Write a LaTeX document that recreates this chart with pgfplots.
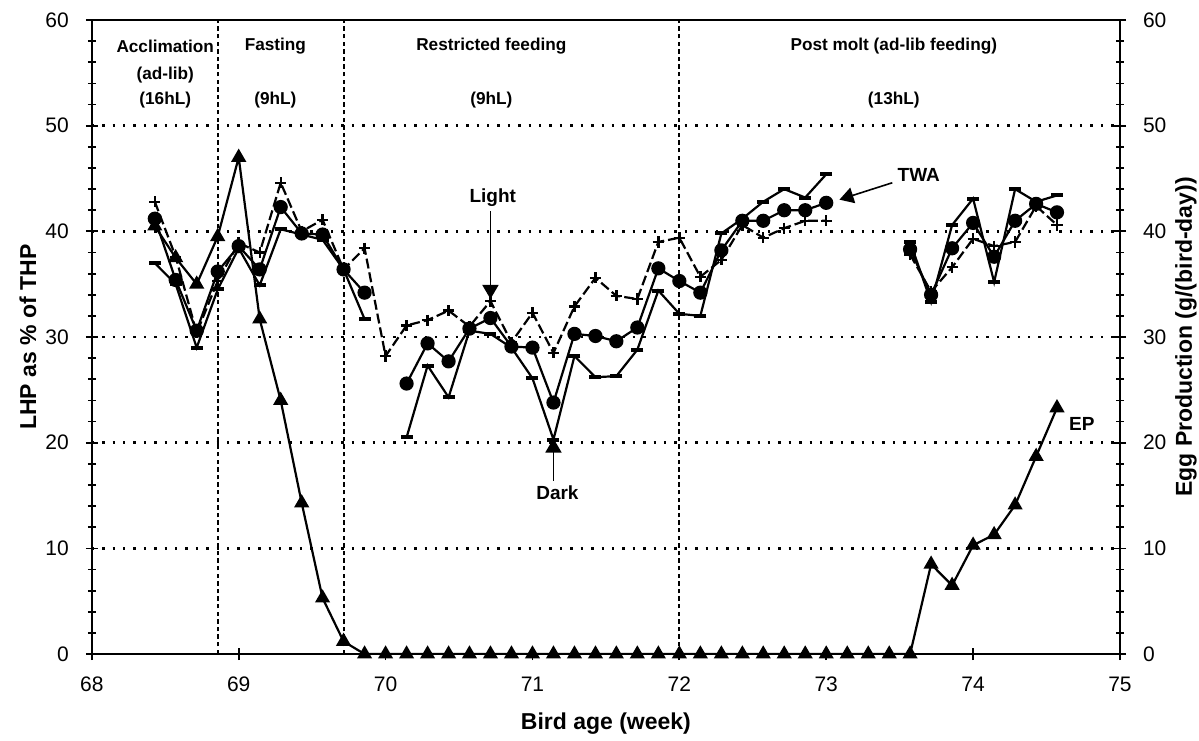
\documentclass[border=0pt]{standalone}
\usepackage{fontspec}
\setmainfont{Liberation Sans}
\usepackage{pgfplots}
\pgfplotsset{compat=1.18}
\usepackage{pgfplotstable}
\usetikzlibrary{arrows.meta}

% LHP as % of THP, one row per day (x in weeks)
\pgfplotstableread{
x      light twa  dark
68.429 42.8  41.2 37.0
68.571 37.6  35.4 35.0
68.714 30.4  30.6 29.0
68.857 35.3  36.2 34.5
69.000 38.9  38.6 38.4
69.143 38.0  36.4 34.9
69.286 44.6  42.3 40.2
69.429 40.0  39.8 39.7
69.571 41.1  39.7 39.2
69.714 36.4  36.4 36.4
69.857 38.4  34.2 31.7
70.000 28.2  nan  nan
70.143 31.1  25.6 20.5
70.286 31.6  29.4 27.3
70.429 32.5  27.7 24.3
70.571 31.0  30.8 30.6
70.714 33.4  31.8 30.3
70.857 29.5  29.1 29.0
71.000 32.3  29.0 26.1
71.143 28.5  23.8 20.3
71.286 32.9  30.3 28.2
71.429 35.6  30.1 26.2
71.571 33.9  29.6 26.3
71.714 33.6  30.9 28.8
71.857 39.0  36.5 34.4
72.000 39.4  35.3 32.2
72.143 35.7  34.2 32.0
72.286 37.3  38.2 39.8
72.429 40.6  41.0 41.2
72.571 39.4  41.0 42.8
72.714 40.3  42.0 44.0
72.857 41.0  42.0 43.2
73.000 41.0  42.7 45.4
73.143 nan   nan  nan
73.571 37.8  38.3 39.0
73.714 34.3  34.0 33.3
73.857 36.6  38.4 40.6
74.000 39.3  40.8 43.1
74.143 38.6  37.6 35.2
74.286 39.0  41.0 44.0
74.429 42.4  42.6 42.8
74.571 40.6  41.8 43.4
}\lhp

% egg production, g/(bird-day)
\pgfplotstableread{
x      ep
68.429 40.5
68.571 37.5
68.714 35.0
68.857 39.5
69.000 47.0
69.143 31.7
69.286 24.0
69.429 14.3
69.571 5.3
69.714 1.2
69.857 0
70.000 0
70.143 0
70.286 0
70.429 0
70.571 0
70.714 0
70.857 0
71.000 0
71.143 0
71.286 0
71.429 0
71.571 0
71.714 0
71.857 0
72.000 0
72.143 0
72.286 0
72.429 0
72.571 0
72.714 0
72.857 0
73.000 0
73.143 0
73.286 0
73.429 0
73.571 0
73.714 8.5
73.857 6.5
74.000 10.3
74.143 11.3
74.286 14.1
74.429 18.7
74.571 23.3
}\epdata

\pgfplotsset{
  twin/.style={
    scale only axis, width=514pt, height=317pt,
    xmin=68, xmax=75, ymin=0, ymax=60,
    ytick={0,10,...,60}, minor y tick num=4,
    tick align=center, major tick length=6pt, minor tick length=4pt,
    tick style={black, line width=0.9pt},
    axis line style={line width=1pt},
    tick label style={font=\fontsize{10.5}{12}\selectfont},
    /pgf/number format/assume math mode=true,
    unbounded coords=jump,
  },
  ser/.style={black, line width=1.1pt},
}

\begin{document}
\begin{tikzpicture}
\begin{axis}[
    twin, name=main,
    xtick={68,...,75}, xtick pos=bottom, ytick pos=left,
    xticklabel style={yshift=-5pt},
    yticklabel style={xshift=-5pt},
    ymajorgrids,
    grid style={black, line width=1.3pt, dash pattern=on 1.2pt off 4pt},
    xlabel={Bird age (week)}, ylabel={LHP as \% of THP},
    every axis x label/.style={at={([yshift=-34.6pt]axis description cs:0.5,0)}, anchor=center,
      font=\fontsize{11.5}{13}\selectfont\bfseries},
    every axis y label/.style={at={([xshift=-32pt]axis description cs:0,0.5)}, anchor=center, rotate=90,
      font=\fontsize{11.5}{13}\selectfont\bfseries},
  ]
  % period dividers
  \draw[black, line width=1pt, dash pattern=on 2.2pt off 1.6pt] (axis cs:68.857,0) -- (axis cs:68.857,60);
  \draw[black, line width=1pt, dash pattern=on 2.2pt off 1.6pt] (axis cs:69.714,0) -- (axis cs:69.714,60);
  \draw[black, line width=1pt, dash pattern=on 2.2pt off 1.6pt] (axis cs:72,0) -- (axis cs:72,60);

  \addplot[ser, dash pattern=on 5pt off 2pt, mark=+, mark size=2.8pt, mark options={solid, line width=1.2pt}]
    table[x=x, y=light] {\lhp};
  \addplot[ser, mark=-, mark size=3pt, mark options={line width=2pt}]
    table[x=x, y=dark] {\lhp};
  \addplot[ser, mark=*, mark size=3pt]
    table[x=x, y=twa] {\lhp};

  % period labels
  \begin{scope}[font=\fontsize{8.6}{10}\selectfont\bfseries]
    \node at (axis cs:68.50,57.5) {Acclimation};
    \node at (axis cs:68.50,54.8) {(ad-lib)};
    \node at (axis cs:68.50,52.4) {(16hL)};
    \node at (axis cs:69.25,57.5) {Fasting};
    \node at (axis cs:69.25,52.4) {(9hL)};
    \node at (axis cs:70.72,57.5) {Restricted feeding};
    \node at (axis cs:70.72,52.4) {(9hL)};
    \node at (axis cs:73.46,57.5) {Post molt (ad-lib feeding)};
    \node at (axis cs:73.46,52.4) {(13hL)};
  \end{scope}

  % series call-outs
  \begin{scope}[font=\fontsize{9.5}{11}\selectfont\bfseries]
    \node at (axis cs:70.73,43.2) {Light};
    \draw[line width=0.8pt, -{Triangle[length=7pt,width=8pt]}] (axis cs:70.714,41.9) -- (axis cs:70.714,33.6);
    \node at (axis cs:71.17,15.3) {Dark};
    \draw[line width=0.8pt, -{Triangle[length=7pt,width=8pt]}] (axis cs:71.143,16.4) -- (axis cs:71.143,20.4);
    \node at (axis cs:73.63,45.3) {TWA};
    \draw[line width=0.8pt, -{Triangle[length=7pt,width=8pt]}] (axis cs:73.45,44.6) -- (axis cs:73.09,43.0);
    \node at (axis cs:74.74,21.8) {EP};
  \end{scope}
\end{axis}

\begin{axis}[
    twin,
    axis x line=none, axis y line*=right, ytick pos=right,
    yticklabel style={xshift=5pt},
    ylabel={Egg Production (g/(bird-day))},
    every axis y label/.style={at={([xshift=33pt]axis description cs:1,0.5)}, anchor=center, rotate=90,
      font=\fontsize{11.5}{13}\selectfont\bfseries},
  ]
  \addplot[ser, mark=triangle*, mark size=3.3pt] table[x=x, y=ep] {\epdata};
\end{axis}

\pgfresetboundingbox
\path ([xshift=-45.9pt, yshift=-43pt]main.south west) rectangle ([xshift=39.5pt, yshift=10pt]main.north east);
\end{tikzpicture}
\end{document}
